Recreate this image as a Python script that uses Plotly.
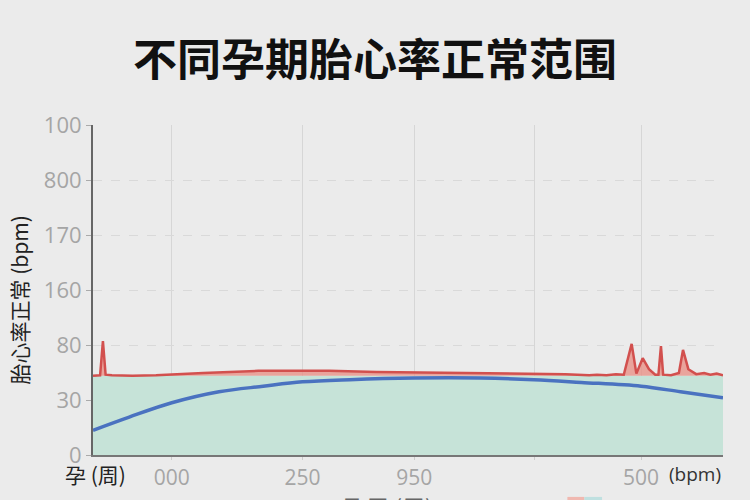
import plotly.graph_objects as go

# ---- data ----
weeks_band = [0, 40]
band_top = [14.4, 14.4]

red_x = [0, 0.45, 0.63, 0.8, 1.2, 2.5, 4.0, 5.0, 7.0, 10.5, 15.0, 18.0, 22.0, 27.0, 30.0, 31.5,
         32.0, 32.6, 33.2, 33.7, 34.2, 34.5, 34.9, 35.3, 35.7, 35.9, 36.06, 36.2, 36.7, 37.2,
         37.46, 37.8, 38.3, 38.8, 39.2, 39.6, 40.0]
red_y = [14.4, 14.5, 20.7, 14.6, 14.5, 14.4, 14.5, 14.6, 14.9, 15.3, 15.3, 15.1, 15.0, 14.9, 14.7, 14.5,
         14.6, 14.5, 14.7, 14.6, 20.2, 14.8, 17.6, 15.6, 14.6, 14.6, 19.8, 14.6, 14.5, 14.9,
         19.1, 15.6, 14.7, 14.9, 14.6, 14.8, 14.5]

blue_x = [0, 2.3, 5.0, 8.0, 10.8, 13.3, 16.3, 20.4, 24.6, 28.0, 31.0, 34.8, 37.3, 40.0]
blue_y = [4.5, 6.9, 9.5, 11.5, 12.5, 13.3, 13.7, 14.0, 14.0, 13.7, 13.2, 12.5, 11.5, 10.4]

y_tickvals = [0, 10, 20, 30, 40, 50, 60]
y_ticktext = ["0", "30", "80", "160", "170", "800", "100"]
x_tickvals = [5.0, 13.3, 20.4, 28.0, 34.8]
x_ticktext = ["000", "250", "950", "", "500"]

title_text = "不同孕期胎心率正常范围"
ytitle_text = "胎心率正常 (bpm)"
xlabel_left = "孕 (周)"
xlabel_right = "(bpm)"
xtitle_text = "孕周 (周)"
legend_text = "正常范围"

CJK = "Noto Sans CJK SC"
BG = "#ebebeb"

fig = go.Figure()
fig.add_trace(go.Scatter(x=weeks_band, y=band_top, mode="lines", line=dict(width=0),
                         fill="tozeroy", fillcolor="#c6e3d8", hoverinfo="skip", showlegend=False))
fig.add_trace(go.Scatter(x=red_x, y=red_y, mode="lines", line=dict(color="#d2504e", width=2.5),
                         fill="tonexty", fillcolor="rgba(232,140,130,0.75)", showlegend=False))
fig.add_trace(go.Scatter(x=blue_x, y=blue_y, mode="lines", line=dict(color="#4a72c0", width=3.5, shape="spline"),
                         showlegend=False))

fig.update_layout(
    width=750, height=500,
    margin=dict(l=93, r=27, t=125, b=45, autoexpand=False),
    paper_bgcolor=BG, plot_bgcolor=BG,
    font=dict(family=CJK),
    title=dict(text=title_text, x=0.5, xanchor="center", y=0.878, yanchor="middle",
               font=dict(family=CJK, size=44, color="#111111", weight="bold")),
    xaxis=dict(range=[0, 40], tickvals=x_tickvals, ticktext=x_ticktext, automargin=False,
               showgrid=True, gridcolor="#d6d6d6", gridwidth=1, zeroline=False,
               showline=True, linecolor="#777777", linewidth=2,
               ticks="outside", ticklen=3, tickcolor="#cccccc", ticklabelstandoff=0,
               tickfont=dict(family="Open Sans", size=21, color="#a5a5a5")),
    yaxis=dict(range=[0, 60], tickvals=y_tickvals, ticktext=y_ticktext, automargin=False,
               showgrid=True, gridcolor="#d9d9d9", gridwidth=1, griddash="dash", zeroline=False,
               showline=True, linecolor="#666666", linewidth=2,
               ticks="outside", ticklen=5, tickcolor="#aaaaaa",
               tickfont=dict(family="Open Sans", size=22, color="#a5a5a5")),
)

fig.add_annotation(text=ytitle_text, textangle=-90, xref="paper", yref="paper",
                   x=-0.118, y=0.47, xanchor="center", yanchor="middle", showarrow=False,
                   font=dict(family=CJK, size=21, color="#222222"))
fig.add_annotation(text=xlabel_left, xref="paper", yref="paper", x=0.004, y=-0.058,
                   xanchor="center", yanchor="middle", showarrow=False,
                   font=dict(family=CJK, size=21, color="#222222"))
fig.add_annotation(text=xlabel_right, xref="paper", yref="paper", x=1.0, y=-0.058,
                   xanchor="right", yanchor="middle", showarrow=False,
                   font=dict(family="Open Sans", size=19, color="#333333"))
fig.add_annotation(text=xtitle_text, xref="paper", yref="paper", x=0.468, y=-0.1,
                   xanchor="center", yanchor="top", showarrow=False,
                   font=dict(family=CJK, size=23, color="#666666"))
fig.add_annotation(text=legend_text, xref="paper", yref="paper", x=0.88, y=-0.108,
                   xanchor="center", yanchor="top", showarrow=False,
                   font=dict(family=CJK, size=22, color="#444444"))
fig.add_shape(type="rect", xref="paper", yref="paper", x0=0.753, x1=0.78, y0=-0.127, y1=-0.2,
              fillcolor="#f0b8b0", line=dict(width=0))
fig.add_shape(type="rect", xref="paper", yref="paper", x0=0.78, x1=0.808, y0=-0.127, y1=-0.2,
              fillcolor="#bfe0e0", line=dict(width=0))

fig.write_html("out.html", config={"displayModeBar": False},
               post_script="document.body.style.margin='0';document.body.style.overflow='hidden';"
                           "document.documentElement.style.overflow='hidden';")
